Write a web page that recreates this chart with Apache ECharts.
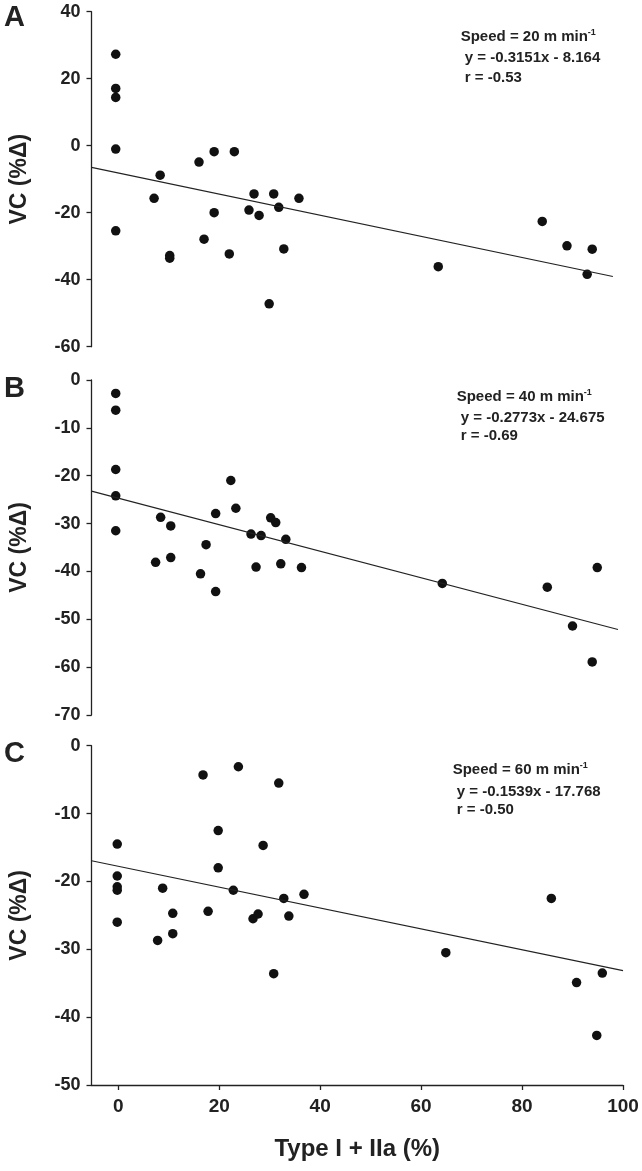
<!DOCTYPE html>
<html>
<head>
<meta charset="utf-8">
<script src="https://cdn.jsdelivr.net/npm/echarts@6/dist/echarts.min.js"></script>
<style>
html,body{margin:0;padding:0;background:#fff;}
#chart{width:642px;height:1171px;}
</style>
</head>
<body>
<div id="chart"></div>
<script>
// ---- Data ----
const xA = [-0.5,-0.5,-0.5,-0.5,-0.5, 8.3, 7.1, 10.2, 10.2, 16.0, 19.0, 23.0, 19.0, 17.0, 22.0, 26.9, 25.9, 27.9, 30.8, 31.8, 32.8, 35.8, 29.9, 63.4, 84.0, 88.9, 93.9, 92.9];
const yA = [27.3, 17.1, 14.4, -1.0, -25.4, -8.8, -15.7, -32.8, -33.6, -4.9, -1.8, -1.8, -20.0, -27.9, -32.3, -14.4, -19.2, -20.8, -14.4, -18.4, -30.8, -15.7, -47.2, -36.1, -22.6, -29.9, -30.9, -38.4];

const xB = [-0.5,-0.5,-0.5,-0.5,-0.5, 7.4, 8.4, 10.4, 10.4, 16.3, 17.4, 19.3, 19.3, 22.3, 23.3, 26.3, 27.3, 28.3, 30.2, 31.2, 32.2, 33.2, 36.3, 64.2, 85.0, 94.9, 90.0, 93.9];
const yB = [-2.8, -6.3, -18.7, -24.2, -31.5, -38.1, -28.7, -30.5, -37.1, -40.5, -34.4, -27.9, -44.2, -21.0, -26.8, -32.2, -39.1, -32.5, -28.8, -29.8, -38.4, -33.3, -39.2, -42.5, -43.3, -39.2, -51.4, -58.9];

const xC = [16.8, 23.8, 31.8, -0.2,-0.2,-0.2,-0.2,-0.2, 7.8, 8.8, 10.8, 10.8, 17.8, 19.8, 19.8, 22.8, 26.7, 27.7, 28.7, 30.8, 32.8, 33.8, 36.8, 64.9, 85.8, 90.8, 95.9, 94.8];
const yC = [-4.3, -3.1, -5.5, -14.5, -19.2, -20.8, -21.3, -26.0, -28.7, -21.0, -24.7, -27.7, -24.4, -12.5, -18.0, -21.3, -25.5, -24.8, -14.7, -33.6, -22.5, -25.1, -21.9, -30.5, -22.5, -34.9, -33.5, -42.7];

// regression: slope, intercept, fitted x-range
const slopes = [-0.3151, -0.2773, -0.1539];
const intercepts = [-8.164, -24.675, -17.768];
const fitStart = [-5.3, -5.3, -5.3];
const fitEnd = [98, 99, 100];

const panelLetters = ['A', 'B', 'C'];
const speeds = ['Speed = 20 m min', 'Speed = 40 m min', 'Speed = 60 m min'];
const eqTexts = ['y = -0.3151x - 8.164', 'y = -0.2773x - 24.675', 'y = -0.1539x - 17.768'];
const rTexts = ['r = -0.53', 'r = -0.69', 'r = -0.50'];

const yMins = [-60, -70, -50];
const yMaxs = [40, 0, 0];
const yIntervals = [20, 10, 10];
const xTicks = [0, 20, 40, 60, 80, 100];
const xTitle = 'Type I + IIa (%)';
const yTitle = 'VC (%\u0394)';

// ---- Layout ----
const FONT = '"Liberation Sans", Arial, Helvetica, sans-serif';
const INK = '#222';
const gridLeft = 91.5, gridRight = 19;
const gridTops = [11.7, 380, 745.7];
const gridHeights = [335, 335, 339.3];
const letterY = [18.5, 389, 754];
const annX = [460.7, 456.7, 452.7];
const annY = [[37, 58, 78], [397, 418, 436], [770, 792, 810]];

const xs = [xA, xB, xC], ys = [yA, yB, yC];

const grids = [], xAxes = [], yAxes = [], series = [], graphics = [];
for (let i = 0; i < 3; i++) {
  grids.push({left: gridLeft, right: gridRight, top: gridTops[i], height: gridHeights[i]});
  const last = i === 2;
  xAxes.push({
    gridIndex: i, type: 'value', min: -5.3, max: 100, show: last,
    axisLine: {show: true, onZero: false, lineStyle: {color: INK, width: 1.3}},
    axisTick: {show: true, length: 5, customValues: xTicks, lineStyle: {color: INK, width: 1.3}},
    axisLabel: {show: true, customValues: xTicks, fontFamily: FONT, fontWeight: 'bold', fontSize: 19, color: INK, margin: 12},
    splitLine: {show: false},
    name: last ? xTitle : '', nameLocation: 'middle', nameGap: 52,
    nameTextStyle: {fontFamily: FONT, fontWeight: 'bold', fontSize: 24, color: INK}
  });
  yAxes.push({
    gridIndex: i, type: 'value', min: yMins[i], max: yMaxs[i], interval: yIntervals[i],
    axisLine: {show: true, onZero: false, lineStyle: {color: INK, width: 1.3}},
    axisTick: {show: true, length: 5, lineStyle: {color: INK, width: 1.3}},
    axisLabel: {fontFamily: FONT, fontWeight: 'bold', fontSize: 18, color: INK, margin: 11},
    splitLine: {show: false},
    name: yTitle, nameLocation: 'middle', nameGap: 60, nameRotate: 90,
    nameTextStyle: {fontFamily: FONT, fontWeight: 'bold', fontSize: 23, color: INK}
  });
  series.push({
    type: 'scatter', xAxisIndex: i, yAxisIndex: i,
    data: xs[i].map((x, k) => [x, ys[i][k]]),
    symbol: 'circle', symbolSize: 9.5,
    itemStyle: {color: '#111', opacity: 1}, silent: true
  });
  series.push({
    type: 'line', xAxisIndex: i, yAxisIndex: i,
    data: [fitStart[i], fitEnd[i]].map(x => [x, slopes[i] * x + intercepts[i]]),
    showSymbol: false, symbol: 'none',
    lineStyle: {color: INK, width: 1.2}, silent: true
  });
  graphics.push({
    type: 'text', left: 4, top: letterY[i] - 15,
    style: {text: panelLetters[i], font: 'bold 29px ' + FONT, fill: INK}
  });
  graphics.push({
    type: 'text', x: annX[i], y: annY[i][0],
    style: {
      text: '{a|' + speeds[i] + '}{s|-1}',
      verticalAlign: 'middle',
      rich: {
        a: {font: 'bold 15px ' + FONT, fill: INK, lineHeight: 18},
        s: {font: 'bold 9px ' + FONT, fill: INK, lineHeight: 9, verticalAlign: 'top'}
      }
    }
  });
  graphics.push({
    type: 'text', x: annX[i] + 4, y: annY[i][1],
    style: {text: eqTexts[i], font: 'bold 15px ' + FONT, fill: INK, verticalAlign: 'middle'}
  });
  graphics.push({
    type: 'text', x: annX[i] + 4, y: annY[i][2],
    style: {text: rTexts[i], font: 'bold 15px ' + FONT, fill: INK, verticalAlign: 'middle'}
  });
}

const chart = echarts.init(document.getElementById('chart'), null, {renderer: 'canvas'});
chart.setOption({
  backgroundColor: '#fff',
  animation: false,
  grid: grids, xAxis: xAxes, yAxis: yAxes, series: series, graphic: graphics
});
</script>
</body>
</html>
